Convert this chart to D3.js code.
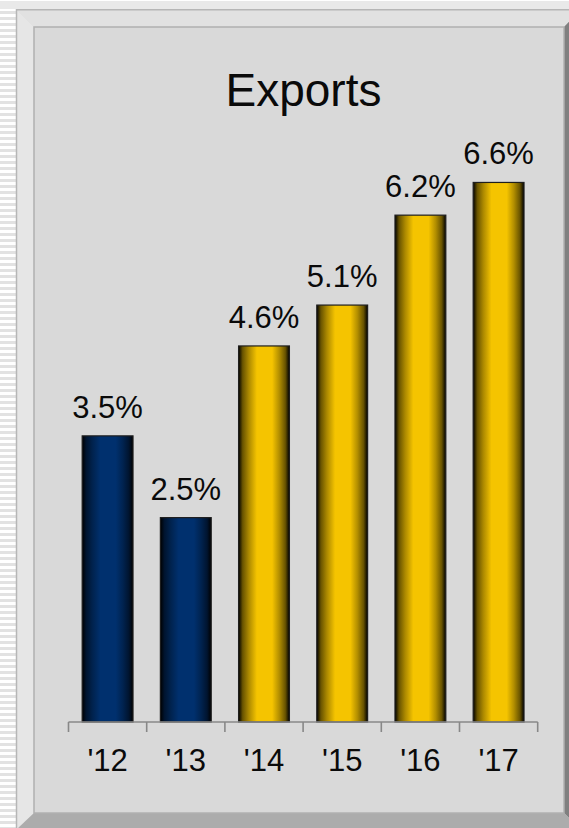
<!DOCTYPE html>
<html>
<head>
<meta charset="utf-8">
<script src="https://cdn.jsdelivr.net/npm/d3@7/dist/d3.min.js"></script>
<style>
  html, body { margin: 0; padding: 0; background: #ffffff; overflow: hidden; }
  svg { display: block; }
  text { font-family: "Liberation Sans", Arial, sans-serif; fill: #0a0a0a; }
</style>
</head>
<body>
<svg id="chart" width="569" height="828"></svg>
<script>
// ---- data ----
const title = "Exports";
const categories = ["'12", "'13", "'14", "'15", "'16", "'17"];
const values = [3.5, 2.5, 4.6, 5.1, 6.2, 6.6];
const kinds = ["actual", "actual", "forecast", "forecast", "forecast", "forecast"];
const valueLabels = ["3.5%", "2.5%", "4.6%", "5.1%", "6.2%", "6.6%"];

// ---- layout ----
const W = 569, H = 828;
const svg = d3.select("#chart");
const defs = svg.append("defs");

// background: top band + left stripes
svg.append("rect").attr("x", 0).attr("y", 0).attr("width", W).attr("height", H).attr("fill", "#ffffff");
svg.append("rect").attr("x", 0).attr("y", 1).attr("width", W).attr("height", 8).attr("fill", "#e9e9e9");
const stripeG = svg.append("g");
for (let y = 11; y < H; y += 6) {
  stripeG.append("rect").attr("x", 0).attr("y", y).attr("width", 16).attr("height", 3).attr("fill", "#e2e2e2");
}

// beveled frame
const oL = 16, oT = 9, oR = 581, oB = 830;
const iL = 34, iT = 27, iR = 564, iB = 813;
svg.append("rect").attr("x", oL).attr("y", oT).attr("width", oR - oL).attr("height", oB - oT).attr("fill", "#d9d9d9");
// top bevel
svg.append("polygon").attr("points", `${oL},${oT} ${oR},${oT} ${iR},${iT} ${iL},${iT}`).attr("fill", "#e1e1e1");
// left bevel
svg.append("polygon").attr("points", `${oL},${oT} ${iL},${iT} ${iL},${iB} ${oL},${oB}`).attr("fill", "#e6e6e6");
// right bevel
svg.append("polygon").attr("points", `${oR},${oT} ${oR},${oB} ${iR},${iB} ${iR},${iT}`).attr("fill", "#808080");
// bottom bevel
svg.append("polygon").attr("points", `${oL},${oB} ${iL},${iB} ${iR},${iB} ${oR},${oB}`).attr("fill", "#acacac");
// outer border
svg.append("rect").attr("x", oL + 0.5).attr("y", oT + 0.75).attr("width", oR - oL).attr("height", oB - oT)
  .attr("fill", "none").attr("stroke", "#b6b6b6").attr("stroke-width", 1.5);
// inner panel
svg.append("rect").attr("x", iL).attr("y", iT).attr("width", iR - iL).attr("height", iB - iT)
  .attr("fill", "#d9d9d9").attr("stroke", "#b0b0b0").attr("stroke-width", 1.5);

// ---- scales ----
const x = d3.scaleBand().domain(categories).range([68.5, 537.7]).paddingInner(0.35).paddingOuter(0.175);
const y = d3.scaleLinear().domain([0, 7]).range([722, 722 - 7 * 81.75]);

// gradients
const colorMap = {
  actual: { mid: "#00306e", dark: "#000812" },
  forecast: { mid: "#f5c400", dark: "#1a1400" }
};
Object.entries(colorMap).forEach(([k, c]) => {
  const g = defs.append("linearGradient").attr("id", "grad-" + k)
    .attr("x1", "0%").attr("x2", "100%").attr("y1", "0%").attr("y2", "0%");
  const midRGB = d3.rgb(c.mid);
  const stops = [
    [0, "#000000"],
    [0.08, midRGB.darker(2.4)],
    [0.2, midRGB.darker(1.0)],
    [0.36, c.mid],
    [0.66, c.mid],
    [0.8, midRGB.darker(0.9)],
    [0.92, midRGB.darker(2.4)],
    [1, "#000000"]
  ];
  stops.forEach(([o, col]) => g.append("stop").attr("offset", o).attr("stop-color", col));
});

// title
svg.append("text").attr("x", 303.5).attr("y", 106).attr("text-anchor", "middle")
  .attr("font-size", 46).text(title);

// bars
const data = categories.map((c, i) => ({ c, v: values[i], k: kinds[i], lab: valueLabels[i] }));
svg.append("g").selectAll("rect").data(data).join("rect")
  .attr("x", d => x(d.c))
  .attr("y", d => y(d.v))
  .attr("width", x.bandwidth())
  .attr("height", d => y(0) - y(d.v))
  .attr("fill", d => `url(#grad-${d.k})`)
  .attr("stroke", "#1e1e1e")
  .attr("stroke-width", 1.2);

// value labels
svg.append("g").selectAll("text").data(data).join("text")
  .attr("x", d => x(d.c) + x.bandwidth() / 2)
  .attr("y", d => y(d.v) - 18)
  .attr("text-anchor", "middle")
  .attr("font-size", 31)
  .text(d => d.lab);

// axis: baseline + boundary ticks
const step = x.step();
const [r0, r1] = x.range();
const axisG = svg.append("g").attr("stroke", "#888888").attr("stroke-width", 1.6).attr("fill", "none");
axisG.append("line").attr("x1", r0).attr("x2", r1).attr("y1", y(0)).attr("y2", y(0));
const boundaries = categories.map(c => x(c) - step * x.paddingInner() / 2).concat([r1]);
axisG.selectAll("line.tick").data(boundaries).join("line").attr("class", "tick")
  .attr("x1", d => d).attr("x2", d => d).attr("y1", y(0)).attr("y2", y(0) + 10);

// category labels
svg.append("g").selectAll("text").data(categories).join("text")
  .attr("x", d => x(d) + x.bandwidth() / 2)
  .attr("y", 771)
  .attr("text-anchor", "middle")
  .attr("font-size", 31)
  .text(d => d);
</script>
</body>
</html>
